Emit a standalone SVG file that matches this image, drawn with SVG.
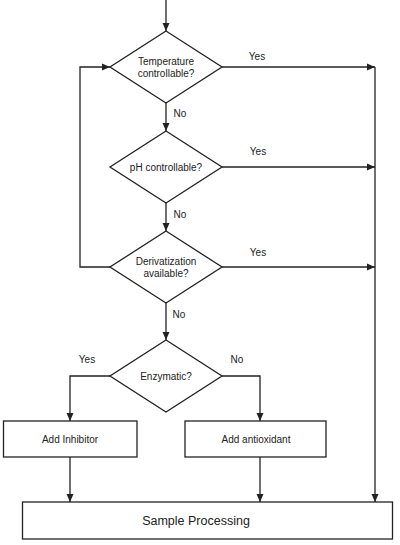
<svg xmlns="http://www.w3.org/2000/svg" width="400" height="545" viewBox="0 0 400 545">
<style>
.s{fill:#fff;stroke:#222;stroke-width:1.3}
.c{fill:none;stroke:#222;stroke-width:1.3}
text{font-family:"Liberation Sans",Arial,sans-serif;font-size:10px;fill:#222}
.m{text-anchor:middle}
</style>
<defs>
<marker id="a" markerWidth="8" markerHeight="8" refX="8" refY="4" orient="auto" markerUnits="userSpaceOnUse">
<path d="M0,0.5 L8,4 L0,7.5 Z" fill="#222"/>
</marker>
</defs>
<rect width="400" height="545" fill="#fff"/>
<g id="connectors">
<path class="c" d="M166,0 V31" marker-end="url(#a)"/>
<path class="c" d="M222,67 H375" marker-end="url(#a)"/>
<path class="c" d="M166,103 V131" marker-end="url(#a)"/>
<path class="c" d="M222,167 H375" marker-end="url(#a)"/>
<path class="c" d="M166,203 V231" marker-end="url(#a)"/>
<path class="c" d="M222,267 H375" marker-end="url(#a)"/>
<path class="c" d="M110,267 H80 V67 H110" marker-end="url(#a)"/>
<path class="c" d="M166,303 V340" marker-end="url(#a)"/>
<path class="c" d="M110,376 H70 V421" marker-end="url(#a)"/>
<path class="c" d="M222,376 H260 V421" marker-end="url(#a)"/>
<path class="c" d="M70,457 V502" marker-end="url(#a)"/>
<path class="c" d="M260,457 V502" marker-end="url(#a)"/>
<path class="c" d="M375,67 V502" marker-end="url(#a)"/>
<text x="257" y="60" class="m">Yes</text>
<text x="180" y="117" class="m">No</text>
<text x="258" y="155" class="m">Yes</text>
<text x="180" y="218" class="m">No</text>
<text x="258" y="256" class="m">Yes</text>
<text x="179" y="318" class="m">No</text>
<text x="87" y="363" class="m">Yes</text>
<text x="237" y="363" class="m">No</text>
</g>
<g id="temp">
<polygon class="s" points="166,31 222,67 166,103 110,67"/>
<text x="166" y="65" class="m">Temperature</text>
<text x="166" y="77" class="m">controllable?</text>
</g>
<g id="ph">
<polygon class="s" points="166,131 222,167 166,203 110,167"/>
<text x="166" y="171" class="m">pH controllable?</text>
</g>
<g id="deriv">
<polygon class="s" points="166,231 222,267 166,303 110,267"/>
<text x="166" y="265" class="m">Derivatization</text>
<text x="166" y="277" class="m">available?</text>
</g>
<g id="enz">
<polygon class="s" points="166,340 222,376 166,412 110,376"/>
<text x="166" y="380" class="m">Enzymatic?</text>
</g>
<g id="inhib">
<rect class="s" x="3.5" y="421" width="133.5" height="36"/>
<text x="70" y="443" class="m">Add Inhibitor</text>
</g>
<g id="antiox">
<rect class="s" x="185" y="421" width="141" height="36"/>
<text x="256" y="443" class="m">Add antioxidant</text>
</g>
<g id="sample">
<rect class="s" x="22.5" y="502" width="370" height="37"/>
<text x="196" y="525" class="m" style="font-size:12.5px">Sample Processing</text>
</g>
</svg>
